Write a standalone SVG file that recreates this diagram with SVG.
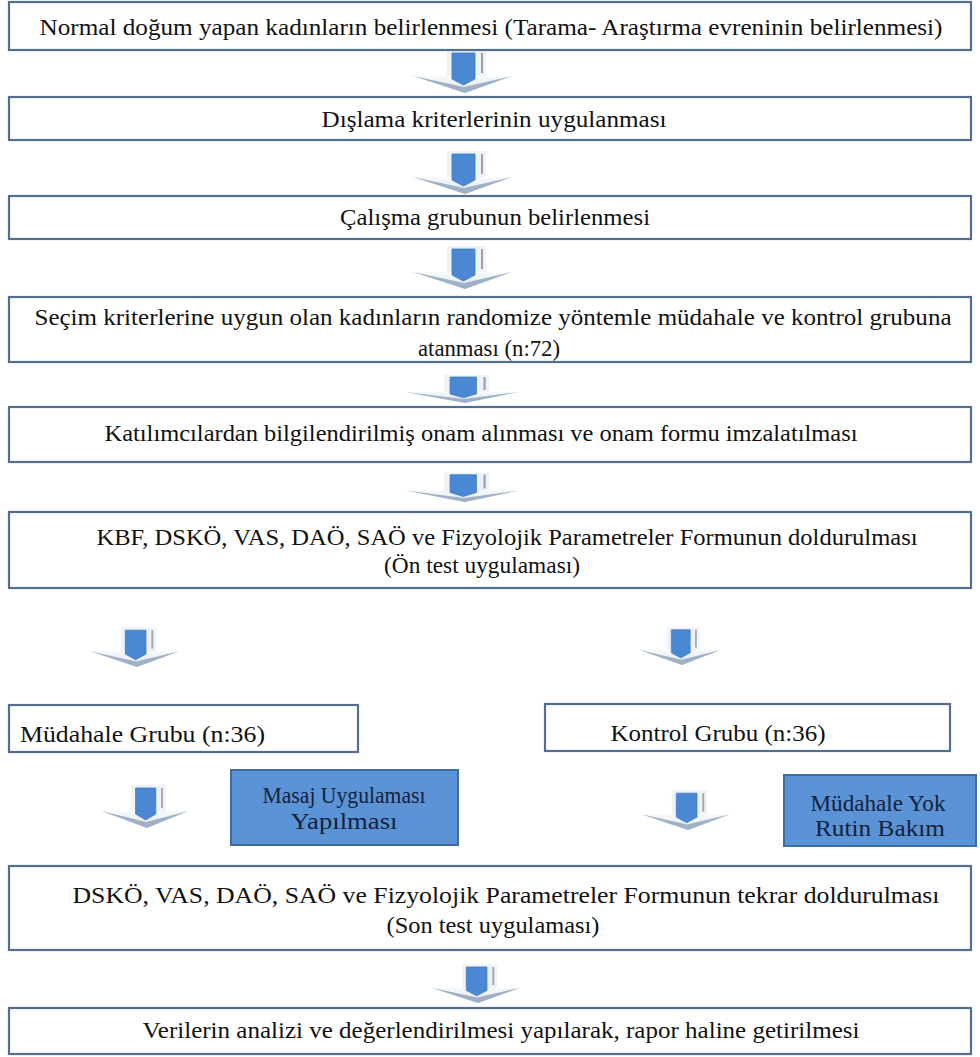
<svg xmlns="http://www.w3.org/2000/svg" width="980" height="1057" viewBox="0 0 980 1057">
<defs>
<style>
.box{fill:#ffffff;stroke:#536e90;stroke-width:2.2}
.bbox{fill:#5b94d6;stroke:#3f6e9e;stroke-width:2}
.t{font-family:"Liberation Serif","Times New Roman",serif;font-size:23px;fill:#111111}
.bt{font-family:"Liberation Serif","Times New Roman",serif;font-size:24px;fill:#16213a}
</style>
<linearGradient id="hg" x1="0" y1="0" x2="0" y2="1">
<stop offset="0" stop-color="#f7f9fb"/>
<stop offset="1" stop-color="#dfe6ee"/>
</linearGradient>
<g id="arr">
<rect x="-18" y="-43" width="39" height="27" fill="#eef2f6"/>
<polygon points="-52,-17 47,-17 0,0" fill="url(#hg)"/>
<polygon points="-52,-17 -1,-6 47,-17 0,0" fill="#9fb1c7"/>
<path d="M-13,-40 H10 V-14 L-1.5,-8 L-13,-14 Z" fill="#4a88d4" stroke="#3d78bf" stroke-width="0.8"/>
<line x1="17" y1="-40" x2="17" y2="-20" stroke="#9ca5af" stroke-width="2"/>
</g>
</defs>
<rect width="980" height="1057" fill="#ffffff"/>

<g id="connectors">
<use href="#arr" transform="translate(465,93)"/>
<use href="#arr" transform="translate(465,194)"/>
<use href="#arr" transform="translate(465,289)"/>
<use href="#arr" transform="translate(465,403) scale(1.15,0.65)"/>
<use href="#arr" transform="translate(465,502) scale(1.15,0.68)"/>
<use href="#arr" transform="translate(137,667) scale(0.9,0.92)"/>
<use href="#arr" transform="translate(682,665) scale(0.82,0.88)"/>
<use href="#arr" transform="translate(147,828) scale(0.88,1)"/>
<use href="#arr" transform="translate(688,830) scale(0.9,0.92)"/>
<use href="#arr" transform="translate(478,1003) scale(0.9,0.9)"/>
</g>

<g id="n1">
<rect class="box" x="9" y="2" width="962" height="48"/>
<text class="t" x="491" y="35" text-anchor="middle" textLength="903" lengthAdjust="spacingAndGlyphs">Normal doğum yapan kadınların belirlenmesi (Tarama- Araştırma evreninin belirlenmesi)</text>
</g>
<g id="n2">
<rect class="box" x="9" y="97" width="962" height="43"/>
<text class="t" x="494" y="127" text-anchor="middle" textLength="345" lengthAdjust="spacingAndGlyphs">Dışlama kriterlerinin uygulanması</text>
</g>
<g id="n3">
<rect class="box" x="9" y="196" width="962" height="43"/>
<text class="t" x="495" y="225" text-anchor="middle" textLength="310" lengthAdjust="spacingAndGlyphs">Çalışma grubunun belirlenmesi</text>
</g>
<g id="n4">
<rect class="box" x="9" y="297" width="962" height="65"/>
<text class="t" x="493" y="325" text-anchor="middle" textLength="917" lengthAdjust="spacingAndGlyphs">Seçim kriterlerine uygun olan kadınların randomize yöntemle müdahale ve kontrol grubuna</text>
<text class="t" x="489" y="356" text-anchor="middle" textLength="142" lengthAdjust="spacingAndGlyphs">atanması (n:72)</text>
</g>
<g id="n5">
<rect class="box" x="9" y="407" width="962" height="55"/>
<text class="t" x="481" y="441" text-anchor="middle" textLength="753" lengthAdjust="spacingAndGlyphs">Katılımcılardan bilgilendirilmiş onam alınması ve onam formu imzalatılması</text>
</g>
<g id="n6">
<rect class="box" x="9" y="512" width="962" height="76"/>
<text class="t" x="507" y="545" text-anchor="middle" textLength="821" lengthAdjust="spacingAndGlyphs">KBF, DSKÖ, VAS, DAÖ, SAÖ ve Fizyolojik Parametreler Formunun doldurulması</text>
<text class="t" x="482" y="573" text-anchor="middle" textLength="196" lengthAdjust="spacingAndGlyphs">(Ön test uygulaması)</text>
</g>
<g id="n7">
<rect class="box" x="9" y="705" width="349" height="47"/>
<text class="t" x="20" y="742" textLength="245" lengthAdjust="spacingAndGlyphs">Müdahale Grubu (n:36)</text>
</g>
<g id="n8">
<rect class="box" x="545" y="704" width="405" height="47"/>
<text class="t" x="718" y="741" text-anchor="middle" textLength="215" lengthAdjust="spacingAndGlyphs">Kontrol Grubu (n:36)</text>
</g>
<g id="n9">
<rect class="bbox" x="231" y="770" width="227" height="75"/>
<text class="bt" x="344" y="803" text-anchor="middle" textLength="163" lengthAdjust="spacingAndGlyphs">Masaj Uygulaması</text>
<text class="bt" x="344" y="829" text-anchor="middle" textLength="107" lengthAdjust="spacingAndGlyphs">Yapılması</text>
</g>
<g id="n10">
<rect class="bbox" x="784" y="775" width="192" height="71"/>
<text class="bt" x="878" y="811" text-anchor="middle" textLength="135" lengthAdjust="spacingAndGlyphs">Müdahale Yok</text>
<text class="bt" x="880" y="836" text-anchor="middle" textLength="130" lengthAdjust="spacingAndGlyphs">Rutin Bakım</text>
</g>
<g id="n11">
<rect class="box" x="9" y="866" width="962" height="84"/>
<text class="t" x="506" y="903" text-anchor="middle" textLength="867" lengthAdjust="spacingAndGlyphs">DSKÖ, VAS, DAÖ, SAÖ ve Fizyolojik Parametreler Formunun tekrar doldurulması</text>
<text class="t" x="493" y="933" text-anchor="middle" textLength="213" lengthAdjust="spacingAndGlyphs">(Son test uygulaması)</text>
</g>
<g id="n12">
<rect class="box" x="9" y="1008" width="962" height="46"/>
<text class="t" x="501" y="1038" text-anchor="middle" textLength="717" lengthAdjust="spacingAndGlyphs">Verilerin analizi ve değerlendirilmesi yapılarak, rapor haline getirilmesi</text>
</g>
</svg>
